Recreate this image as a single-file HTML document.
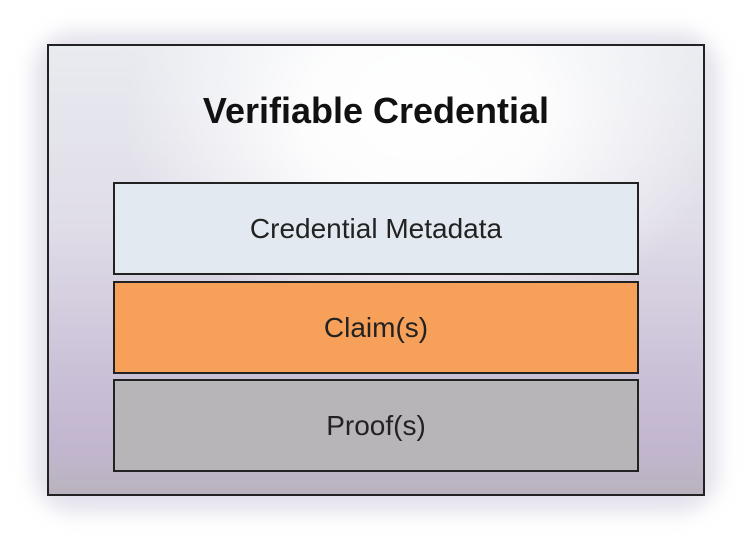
<!DOCTYPE html>
<html><head><style>
html,body{margin:0;padding:0;background:#fff;}
body{width:754px;height:550px;position:relative;overflow:hidden;font-family:"Liberation Sans",sans-serif;}
.shadow{position:absolute;left:34px;top:32px;width:684px;height:480px;border-radius:40px;background:#e2e0ea;filter:blur(10px);}
.outer{position:absolute;left:47px;top:44px;width:654px;height:448px;border:2px solid #222;
background:radial-gradient(ellipse 300px 220px at 375px 70px,rgba(255,255,255,1) 0%,rgba(255,255,255,0.9) 40%,rgba(255,255,255,0) 100%),linear-gradient(to bottom,#e8ebf0 0%,#e0dde8 40%,#c9bfd6 75%,#c2b6cf 90%,#b9b3bd 100%);}
.title{position:absolute;left:0;width:100%;top:44px;text-align:center;font-weight:bold;font-size:36px;color:#111;}
.box{position:absolute;left:64px;width:522px;border:2px solid #222;text-align:center;font-size:28px;color:#222;}
</style></head><body>
<div class="shadow"></div>
<div class="outer">
<div class="title">Verifiable Credential</div>
<div class="box" style="top:136px;height:89px;line-height:89px;background:#e3e9f0;">Credential Metadata</div>
<div class="box" style="top:235px;height:89px;line-height:89px;background:#f7a05a;">Claim(s)</div>
<div class="box" style="top:333px;height:89px;line-height:89px;background:#b8b5b9;">Proof(s)</div>
</div>
</body></html>
